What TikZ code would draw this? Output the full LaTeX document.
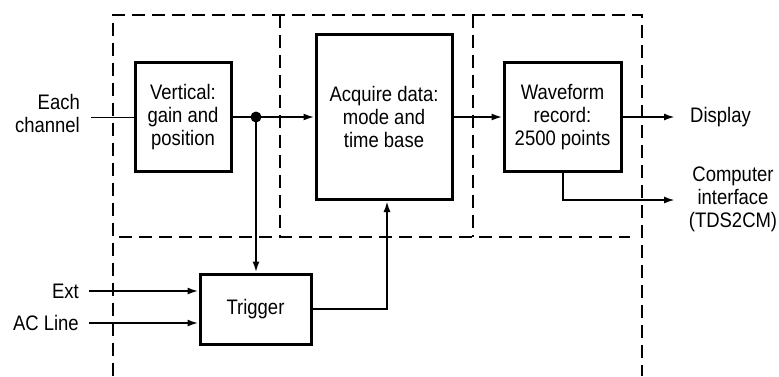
\documentclass[tikz,border=0pt]{standalone}
\usepackage{fontspec}
\setmainfont[FakeStretch=0.88]{Liberation Sans}
\usetikzlibrary{arrows.meta}
\begin{document}
\begin{tikzpicture}[x=1pt,y=-1pt,
  blk/.style={draw, line width=3pt, align=center, inner sep=0pt, font=\fontsize{21}{23}\selectfont},
  lbl/.style={align=center, inner sep=0pt, font=\fontsize{21}{23}\selectfont},
  sig/.style={line width=2pt, -{Latex[length=11pt,width=7pt]}},
  wire/.style={line width=2pt},
  dsh/.style={line width=2pt, dash pattern=on 13pt off 7pt}]
\useasboundingbox (0,0) rectangle (779,376);
% dashed partitions
\draw[dsh] (113,376) -- (113,15) -- (642,15) -- (642,376);
\draw[dsh] (119,237) -- (630,237);
\draw[dsh] (280,15) -- (280,237);
\draw[dsh] (473,15) -- (473,237);
% blocks
\node[blk, minimum width=96pt, minimum height=109pt] (vert) at (183,117) {Vertical:\\gain and\\position};
\node[blk, minimum width=136pt, minimum height=165pt] (acq) at (384,117) {Acquire data:\\mode and\\time base};
\node[blk, minimum width=117pt, minimum height=109pt] (wave) at (562.5,117) {Waveform\\record:\\2500 points};
\node[blk, minimum width=111pt, minimum height=70pt] (trig) at (255.5,309) {Trigger};
% labels
\node[lbl, align=right, anchor=east] (each) at (80,113) {Each\\channel};
\node[lbl, anchor=east] (ext) at (79,291) {Ext};
\node[lbl, anchor=east] (acl) at (79,323) {AC Line};
\node[lbl, anchor=west] (disp) at (690,117) {Display};
\node[lbl] (comp) at (733,199) {Computer\\interface\\(TDS2CM)};
% coordinates
\coordinate (ein) at (91,117);
\coordinate (dot) at (256,117);
\coordinate (extin) at (89,291);
\coordinate (aclin) at (89,323);
\coordinate (turn) at (387,309);
\coordinate (dispend) at (675,117);
\coordinate (cbend) at (563,200);
\coordinate (compend) at (675,200);
% connectors
\draw[line width=1pt] (ein) -- (vert.west);
\draw[wire] (vert.east) -- (dot);
\draw[sig] (dot) -- (acq.west);
\fill (dot) circle (5.5pt);
\draw[sig] (dot) -- (trig.north -| dot);
\draw[sig] (extin) -- (trig.west |- extin);
\draw[sig] (aclin) -- (trig.west |- aclin);
\draw[sig] (trig.east |- turn) -- (turn) -- (acq.south -| turn);
\draw[sig] (acq.east) -- (wave.west);
\draw[sig] (wave.east) -- (dispend);
\draw[sig] (wave.south -| cbend) -- (cbend) -- (compend);
\end{tikzpicture}
\end{document}
